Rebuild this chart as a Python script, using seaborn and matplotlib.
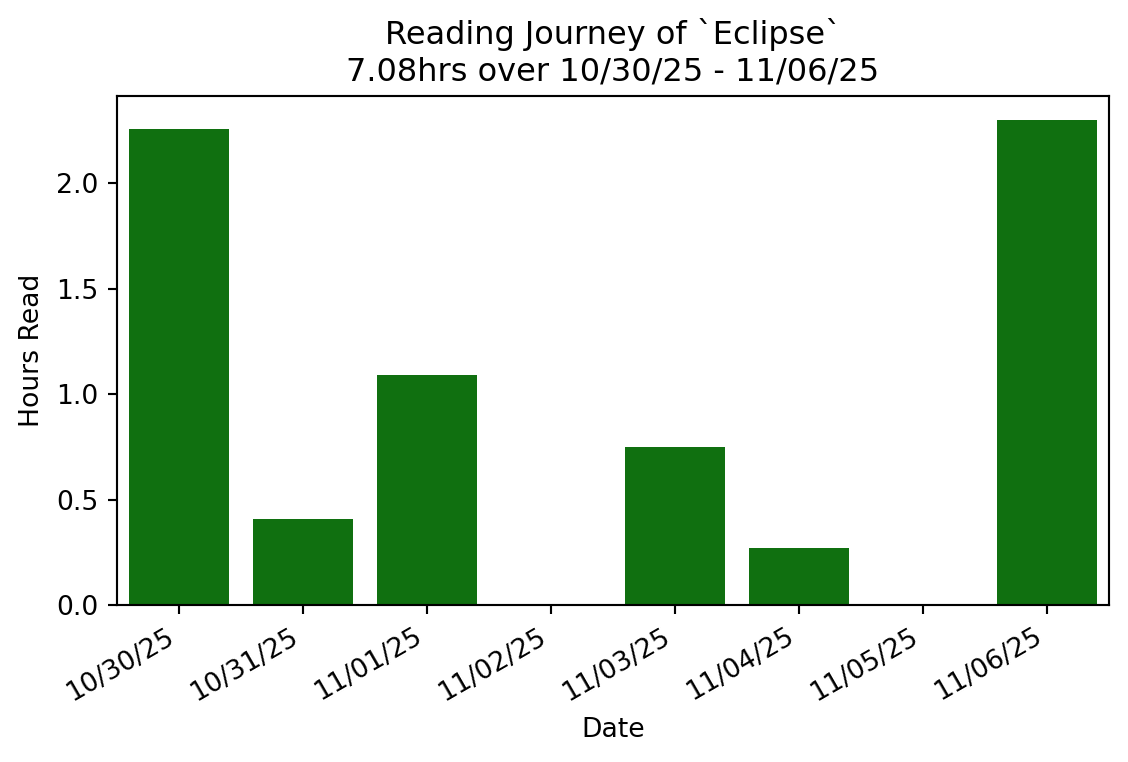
import matplotlib
matplotlib.use("Agg")
import matplotlib.pyplot as plt
import seaborn as sns
import pandas as pd

dates = ["10/30/25", "10/31/25", "11/01/25", "11/02/25", "11/03/25", "11/04/25", "11/05/25", "11/06/25"]
hours = [2.26, 0.41, 1.09, 0.0, 0.75, 0.27, 0.0, 2.30]

df = pd.DataFrame({"Date": dates, "Hours Read": hours})

DPI = 192
fig, ax = plt.subplots(figsize=(1128 / DPI, 762 / DPI), dpi=DPI)
sns.barplot(data=df, x="Date", y="Hours Read", color="green", ax=ax)
ax.set_title("Reading Journey of `Eclipse`\n7.08hrs over 10/30/25 - 11/06/25")
plt.setp(ax.get_xticklabels(), rotation=30, ha="right")
fig.subplots_adjust(left=117/1128, right=1109/1128, top=1-96/762, bottom=1-605/762)
fig.savefig("out.png", dpi=DPI)
